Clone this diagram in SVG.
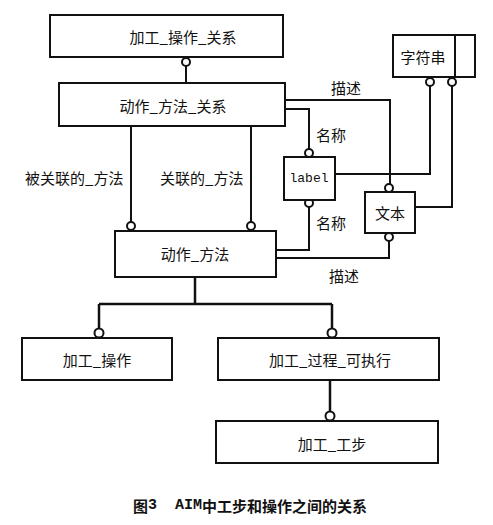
<svg xmlns="http://www.w3.org/2000/svg" width="493" height="525" viewBox="0 0 493 525">
<style>
.box{fill:#fff;stroke:#111;stroke-width:2}
.ln{fill:none;stroke:#111;stroke-width:2}
.thk{fill:none;stroke:#111;stroke-width:2.5}
.c{fill:#fff;stroke:#111;stroke-width:2}
.t{font-family:"Noto Sans CJK SC","Noto Sans",sans-serif;font-size:15px;fill:#111;text-anchor:middle;dominant-baseline:central}
.lb{font-family:"Noto Sans CJK SC","Noto Sans",sans-serif;font-size:15px;fill:#111;dominant-baseline:central}
.mono{font-family:"Liberation Mono","DejaVu Sans Mono",monospace;font-size:13px;font-weight:normal;fill:#111;text-anchor:middle;dominant-baseline:central}
</style>
<rect width="493" height="525" fill="#fff"/>
<g id="connectors">
  <path class="ln" d="M186 66 V83"/>
  <path class="ln" d="M131 126 V222"/>
  <path class="ln" d="M251 126 V222"/>
  <path class="ln" d="M285 100 H390 V184"/>
  <path class="ln" d="M285 109 H309 V149"/>
  <path class="ln" d="M309 207 V250 H276"/>
  <path class="ln" d="M389 241 V258 H276"/>
  <path class="ln" d="M430 86 V174 H335"/>
  <path class="ln" d="M452 86 V207 H415"/>
  <path class="thk" d="M195 277 V304 M99 304 H332 M99 304 V328 M332 304 V328"/>
  <path class="thk" d="M330 380 V411"/>
  <circle class="c" cx="186" cy="62" r="4"/>
  <circle class="c" cx="131" cy="226" r="4"/>
  <circle class="c" cx="251" cy="226" r="4"/>
  <circle class="c" cx="309" cy="153" r="4"/>
  <circle class="c" cx="309" cy="203" r="4"/>
  <circle class="c" cx="389" cy="188" r="4"/>
  <circle class="c" cx="389" cy="237" r="4"/>
  <circle class="c" cx="430" cy="82" r="4"/>
  <circle class="c" cx="452" cy="82" r="4"/>
  <circle class="c" cx="99" cy="333" r="4.5"/>
  <circle class="c" cx="332" cy="333" r="4.5"/>
  <circle class="c" cx="330" cy="416" r="4.5"/>
  <text class="t" x="346" y="87">描述</text>
  <text class="t" x="331" y="134">名称</text>
  <text class="t" x="331" y="222">名称</text>
  <text class="t" x="344" y="275">描述</text>
  <text class="lb" x="25" y="177">被关联的_方法</text>
  <text class="lb" x="160" y="177">关联的_方法</text>
</g>
<g id="n_jiagong_caozuo_guanxi">
  <rect class="box" x="50" y="15" width="233" height="42"/>
  <text class="t" x="183" y="36">加工_操作_关系</text>
</g>
<g id="n_dongzuo_fangfa_guanxi">
  <rect class="box" x="59" y="83" width="226" height="43"/>
  <text class="t" x="173" y="105">动作_方法_关系</text>
</g>
<g id="n_zifuchuan">
  <rect class="box" x="393" y="35" width="82" height="42"/>
  <line class="ln" x1="455" y1="35" x2="455" y2="77"/>
  <text class="t" x="423" y="56">字符串</text>
</g>
<g id="n_label">
  <rect class="box" x="284" y="157" width="51" height="43"/>
  <text class="mono" x="309" y="178">label</text>
</g>
<g id="n_wenben">
  <rect class="box" x="365" y="192" width="50" height="41"/>
  <text class="t" x="390" y="212">文本</text>
</g>
<g id="n_dongzuo_fangfa">
  <rect class="box" x="115" y="231" width="161" height="46"/>
  <text class="t" x="195" y="253">动作_方法</text>
</g>
<g id="n_jiagong_caozuo">
  <rect class="box" x="22" y="338" width="150" height="42"/>
  <text class="t" x="97" y="359">加工_操作</text>
</g>
<g id="n_jiagong_guocheng">
  <rect class="box" x="218" y="338" width="221" height="42"/>
  <text class="t" x="330" y="359">加工_过程_可执行</text>
</g>
<g id="n_jiagong_gongbu">
  <rect class="box" x="216" y="421" width="222" height="42"/>
  <text class="t" x="332" y="443">加工_工步</text>
</g>
<g id="caption">
  <text xml:space="preserve" x="250" y="505" text-anchor="middle" dominant-baseline="central" font-family="'Noto Sans CJK SC',sans-serif" font-size="15" font-weight="bold" fill="#111">图<tspan font-family="'Liberation Mono',monospace">3  AIM</tspan>中工步和操作之间的关系</text>
</g>
</svg>
